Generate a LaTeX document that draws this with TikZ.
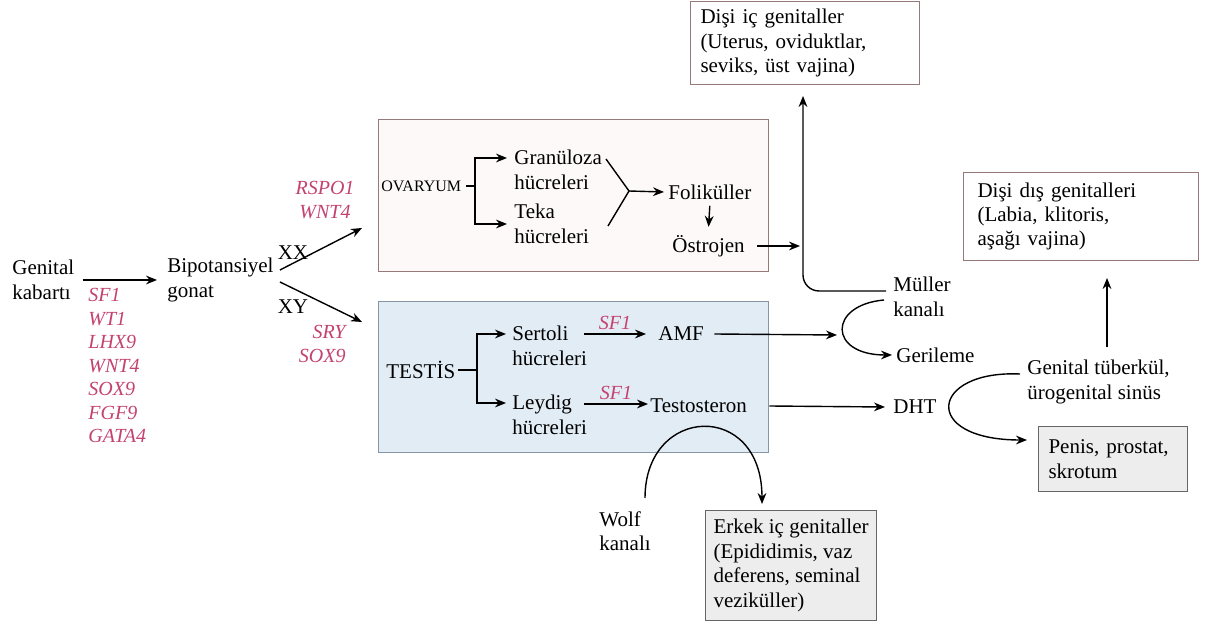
\documentclass[tikz,border=0pt]{standalone}
\usepackage{fontspec}
\setmainfont{Liberation Serif}
\usepackage{xcolor}
\usepackage{tikz}
\usetikzlibrary{positioning,calc,arrows.meta}
\definecolor{genered}{RGB}{196,66,112}
\definecolor{ovline}{RGB}{150,122,122}
\definecolor{ovfill}{RGB}{253,249,249}
\definecolor{tsfill}{RGB}{226,236,245}
\definecolor{tsline}{RGB}{135,150,165}
\definecolor{boxgray}{RGB}{237,237,237}

\begin{document}
\begin{tikzpicture}[x=0.5pt,y=-0.5pt,
    every node/.style={font=\fontsize{10.5}{12.2}\selectfont, inner sep=0pt},
    lbl/.style={anchor=west, align=left},
    gene/.style={font=\fontsize{10}{11.75}\selectfont\itshape, text=genered},
    arr/.style={-{Stealth[length=5.5pt,width=4.4pt]}, line width=0.7pt},
    ln/.style={line width=0.7pt},
    femalebox/.style={draw=ovline, fill=white, line width=0.5pt, align=left, anchor=north west, inner xsep=5pt},
    malebox/.style={draw=black!60, fill=boxgray, line width=0.5pt, align=left, anchor=north west, inner xsep=5pt}]
    \useasboundingbox[fill=white] (0,0) rectangle (1211,625);

    % gonad boxes
    \node[draw=ovline, fill=ovfill, line width=0.5pt, minimum width=195pt, minimum height=76pt] (ovary) at (573,196) {};
    \node[draw=tsline, fill=tsfill, line width=0.5pt, minimum width=195pt, minimum height=75.5pt] (testisbox) at (573,377.5) {};

    % left part
    \node[lbl] (kabarti) at (12,280) {Genital\\kabartı};
    \node[gene, anchor=north west, align=left] (genes) at (88,288) {SF1\\WT1\\LHX9\\WNT4\\SOX9\\FGF9\\GATA4};
    \node[lbl] (bipot) at (167,280) {Bipotansiyel\\gonat};
    \draw[arr] ([xshift=4pt]kabarti.east) -- ([xshift=-5pt]bipot.west);

    \node (xx) at (293,253) {XX};
    \node (xy) at (293,307) {XY};
    \node[gene, align=center] (rspo) at (325,200) {RSPO1\\WNT4};
    \node[gene, align=right, anchor=east] (sry) at (346,344) {SRY\\SOX9};
    \coordinate (xxin) at (362,228);
    \coordinate (xyin) at (362,322);
    \draw[arr] ([shift={(3pt,5pt)}]bipot.east) -- (xxin); % XX
    \draw[arr] ([shift={(3pt,-1pt)}]bipot.east) -- (xyin); % XY

    % ovary
    \node[lbl, font=\fontsize{8}{9}\selectfont] (ovaryum) at (381,186) {OVARYUM};
    \node[lbl] (granuloza) at (514,170) {Granüloza\\hücreleri};
    \node[lbl] (teka) at (514,224) {Teka\\hücreleri};
    \node[lbl] (folikul) at (668,192) {Foliküller};
    \node[lbl] (ostrojen) at (672,246) {Östrojen};
    \coordinate (ovsplit) at (475,186);
    \coordinate (granin) at (507,158);
    \coordinate (tekain) at (507,224);
    \draw[ln] ([xshift=2pt]ovaryum.east) -- (ovsplit);
    \draw[arr] (ovsplit) |- (granin);
    \draw[arr] (ovsplit) |- (tekain);
    \coordinate (vtop) at (606,159);
    \coordinate (vtip) at (629,191);
    \coordinate (vbot) at (608,226);
    \draw[ln] (vtop) -- (vtip) -- (vbot);
    \draw[arr] (vtip) -- ([xshift=-2pt]folikul.west);
    \draw[arr] ([yshift=-3pt]folikul.south) -- ([yshift=4pt]ostrojen.north);
    \coordinate (estrout) at (800,246);
    \draw[arr] ([xshift=6pt]ostrojen.east) -- (estrout);

    % testis
    \node[lbl] (testis) at (386,370) {TESTİS};
    \node[lbl] (sertoli) at (512,346) {Sertoli\\hücreleri};
    \node[lbl] (leydig) at (512,415) {Leydig\\hücreleri};
    \node[lbl] (amf) at (658,334) {AMF};
    \node[lbl] (testosteron) at (650,406) {Testosteron};
    \coordinate (tesplit) at (477,370);
    \coordinate (sertin) at (506,334);
    \coordinate (leydin) at (506,403);
    \draw[ln] ([xshift=1pt]testis.east) -- (tesplit);
    \draw[arr] (tesplit) |- (sertin);
    \draw[arr] (tesplit) |- (leydin);
    \coordinate (sertout) at (584,334);
    \coordinate (leydout) at (584,404);
    \draw[arr] (sertout) -- node[gene, above=2pt] (sfa) {SF1} ([xshift=-6pt]amf.west);
    \draw[arr] (leydout) -- node[gene, above=2pt] (sfb) {SF1} ([xshift=-1pt]testosteron.west |- leydout);

    % right part
    \node[femalebox, text width=104.5pt, minimum height=41.5pt] (disiic) at (690,1) {Dişi iç genitaller\\(Uterus, oviduktlar,\\seviks, üst vajina)};
    \node[femalebox, inner xsep=7pt, text width=103.5pt, minimum height=44pt] (disidis) at (963,172) {Dişi dış genitalleri\\(Labia, klitoris,\\aşağı vajina)};
    \node[lbl] (muller) at (893,297) {Müller\\kanalı};
    \node[lbl] (gerileme) at (896,355) {Gerileme};
    \node[lbl] (dht) at (893,407) {DHT};
    \node[lbl] (tuberkul) at (1027,382) {Genital tüberkül,\\ürogenital sinüs};
    \node[malebox, text width=64.5pt, minimum height=32.5pt] (penis) at (1038,426) {Penis, prostat,\\skrotum};
    \node[malebox, inner xsep=4pt, minimum height=55pt] (erkek) at (705,510) {Erkek iç genitaller\\(Epididimis, vaz\\deferens, seminal\\veziküller)};
    \node[lbl] (wolf) at (599,531) {Wolf\\kanalı};

    \coordinate (mullerout) at (886,291);
    \coordinate (dicin) at (803,96);
    \draw[arr, rounded corners=8pt] (mullerout) -| (dicin); % to female internal
    \coordinate (amfend) at (837,335);
    \draw[arr] ([xshift=5pt]amf.east) -- (amfend);
    \coordinate (gerstart) at (884,300);
    \draw[arr] (gerstart) .. controls (828,305) and (828,355) .. ([xshift=-2pt]gerileme.west);
    \draw[arr] ([xshift=11pt]testosteron.east) -- ([xshift=-4pt]dht.west);
    \coordinate (tubout) at (1020,374);
    \coordinate (penisin) at (1027,440);
    \draw[arr] (tubout) .. controls (930,370) and (920,440) .. (penisin);
    \coordinate (tubup) at (1107,347);
    \coordinate (disin) at (1107,278);
    \draw[arr] (tubup) -- (disin);
    \coordinate (wolfout) at (645,498);
    \coordinate (erkekin) at (762,504);
    \draw[arr] (wolfout) .. controls (645,405) and (762,400) .. (erkekin); % Wolf arch
\end{tikzpicture}
\end{document}
